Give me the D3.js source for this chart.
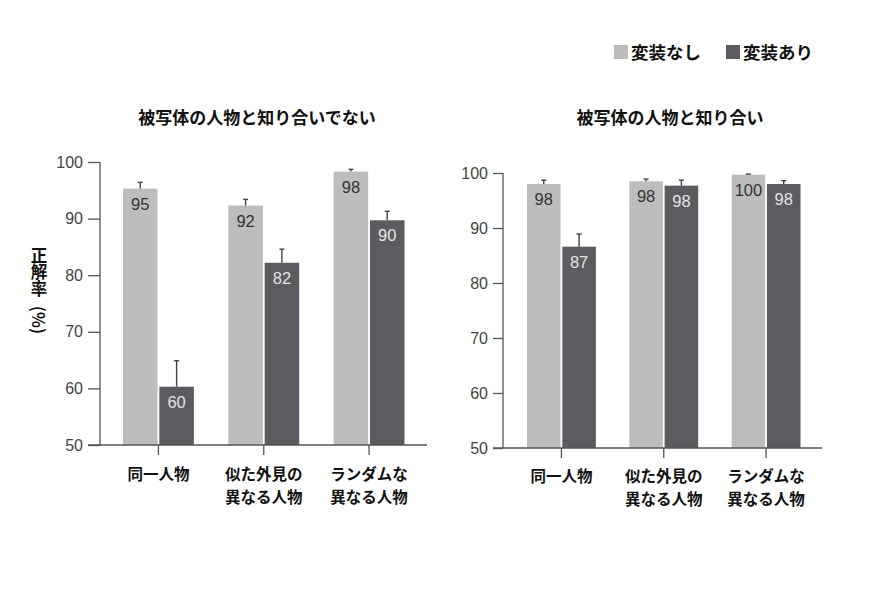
<!DOCTYPE html>
<html>
<head>
<meta charset="utf-8">
<script src="https://cdn.jsdelivr.net/npm/d3@7/dist/d3.min.js"></script>
<style>
  body { margin: 0; background: #fff; }
  svg { display: block; }
  .jp { font-family: "Noto Sans CJK JP", sans-serif; font-weight: 700; }
  .num { font-family: "Liberation Sans", Arial, sans-serif; }
</style>
</head>
<body>
<div id="chart"></div>
<script>
// categories and series
var categories = [["同一人物"], ["似た外見の", "異なる人物"], ["ランダムな", "異なる人物"]];
var seriesNames = ["変装なし", "変装あり"];
var panelTitles = ["被写体の人物と知り合いでない", "被写体の人物と知り合い"];
var yTicks = [50, 60, 70, 80, 90, 100];

// panel 1: not acquainted
var unknownPlain = [95.3, 92.3, 98.3];
var unknownDisguise = [60.3, 82.2, 89.7];
var unknownPlainErr = [96.4, 93.4, 98.7];
var unknownDisguiseErr = [64.9, 84.6, 91.3];
var unknownLabels = [[95, 60], [92, 82], [98, 90]];

// panel 2: acquainted
var knownPlain = [98.0, 98.5, 99.7];
var knownDisguise = [86.6, 97.7, 98.0];
var knownPlainErr = [98.7, 98.9, 99.8];
var knownDisguiseErr = [88.9, 98.7, 98.6];
var knownLabels = [[98, 87], [98, 98], [100, 98]];

var colors = ["#bdbdbd", "#5b5b60"];
var labelColors = ["#333", "#e4e4e4"];

var svg = d3.select("#chart").append("svg")
  .attr("width", 888).attr("height", 592);

var panels = [
  { title: panelTitles[0], axisX: 100, endX: 427, yTop: 162, yBot: 445, tickX: 88, titleX: 257,
    bandL: 123, bandR: 404.5, catY: 480,
    vals: [unknownPlain, unknownDisguise], errs: [unknownPlainErr, unknownDisguiseErr], labels: unknownLabels },
  { title: panelTitles[1], axisX: 503, endX: 822, yTop: 173, yBot: 448, tickX: 493, titleX: 670,
    bandL: 527, bandR: 800.5, catY: 482,
    vals: [knownPlain, knownDisguise], errs: [knownPlainErr, knownDisguiseErr], labels: knownLabels }
];

panels.forEach(function(p) {
  var y = d3.scaleLinear().domain([50, 100]).range([p.yBot, p.yTop]);
  var x0 = d3.scaleBand().domain(d3.range(categories.length)).range([p.bandL, p.bandR]).paddingInner(0.327).paddingOuter(0);
  var x1 = d3.scaleBand().domain([0, 1]).range([0, x0.bandwidth()]).paddingInner(0.05);

  var g = svg.append("g");

  // title
  g.append("text").attr("class", "jp")
    .attr("x", p.titleX).attr("y", 124)
    .attr("text-anchor", "middle").attr("font-size", 17).attr("fill", "#111")
    .text(p.title);

  [0, 1].forEach(function(s) {
    // bars
    g.selectAll(".bar" + s).data(p.vals[s]).enter().append("rect")
      .attr("x", function(d, i) { return x0(i) + x1(s); })
      .attr("y", function(d) { return y(d); })
      .attr("width", x1.bandwidth())
      .attr("height", function(d) { return y(50) - y(d); })
      .attr("fill", colors[s]);

    // error bars (upper only)
    p.errs[s].forEach(function(e, i) {
      var cx = x0(i) + x1(s) + x1.bandwidth() / 2;
      g.append("line").attr("x1", cx).attr("x2", cx)
        .attr("y1", y(p.vals[s][i])).attr("y2", y(e))
        .attr("stroke", "#444").attr("stroke-width", 1.4);
      g.append("line").attr("x1", cx - 2.5).attr("x2", cx + 2.5)
        .attr("y1", y(e)).attr("y2", y(e))
        .attr("stroke", "#444").attr("stroke-width", 1.4);
    });

    // value labels
    g.selectAll(".lab" + s).data(p.vals[s]).enter().append("text")
      .attr("class", "num")
      .attr("x", function(d, i) { return x0(i) + x1(s) + x1.bandwidth() / 2; })
      .attr("y", function(d) { return y(d) + 21; })
      .attr("text-anchor", "middle").attr("font-size", 16.5)
      .attr("fill", labelColors[s])
      .text(function(d, i) { return p.labels[i][s]; });
  });

  // y axis
  var yAxis = d3.axisLeft(y).tickValues(yTicks).tickSize(p.axisX - p.tickX).tickPadding(5);
  var ya = g.append("g").attr("transform", "translate(" + p.axisX + ",0)").call(yAxis);
  ya.select(".domain").attr("stroke", "#555").attr("stroke-width", 1.3).attr("d", "M0," + p.yBot + "V" + p.yTop);
  ya.selectAll(".tick line").attr("stroke", "#555").attr("stroke-width", 1.3);
  ya.selectAll(".tick text").attr("class", "num").attr("font-size", 16).attr("fill", "#444");

  // x axis line
  g.append("line").attr("x1", p.tickX).attr("x2", p.endX)
    .attr("y1", p.yBot).attr("y2", p.yBot)
    .attr("stroke", "#555").attr("stroke-width", 1.3);

  // category ticks and labels
  categories.forEach(function(c, i) {
    var cx = x0(i) + x0.bandwidth() / 2;
    g.append("line").attr("x1", cx).attr("x2", cx)
      .attr("y1", p.yBot).attr("y2", p.yBot + 10)
      .attr("stroke", "#555").attr("stroke-width", 1.3);
    var t = g.append("text").attr("class", "jp")
      .attr("x", cx).attr("y", p.catY)
      .attr("text-anchor", "middle").attr("font-size", 15.5).attr("fill", "#111");
    c.forEach(function(line, li) {
      t.append("tspan").attr("x", cx).attr("dy", li == 0 ? 0 : 22.5).text(line);
    });
  });
});

// y axis title: vertical writing, then rotated (%)
svg.append("text").attr("class", "jp")
  .attr("x", 39).attr("y", 247)
  .style("writing-mode", "vertical-rl")
  .attr("font-size", 16.5).attr("fill", "#111")
  .text("正解率");
svg.append("text").attr("class", "jp")
  .attr("transform", "translate(32,320) rotate(90)")
  .attr("text-anchor", "middle").attr("font-size", 16.5).attr("fill", "#111")
  .text("(%)");

// legend
var legendX = [614, 726];
seriesNames.forEach(function(n, i) {
  svg.append("rect").attr("x", legendX[i]).attr("y", 45)
    .attr("width", 14).attr("height", 14).attr("fill", colors[i]);
  svg.append("text").attr("class", "jp")
    .attr("x", legendX[i] + 17).attr("y", 59)
    .attr("font-size", 17.5).attr("fill", "#111")
    .text(n);
});
</script>
</body>
</html>
